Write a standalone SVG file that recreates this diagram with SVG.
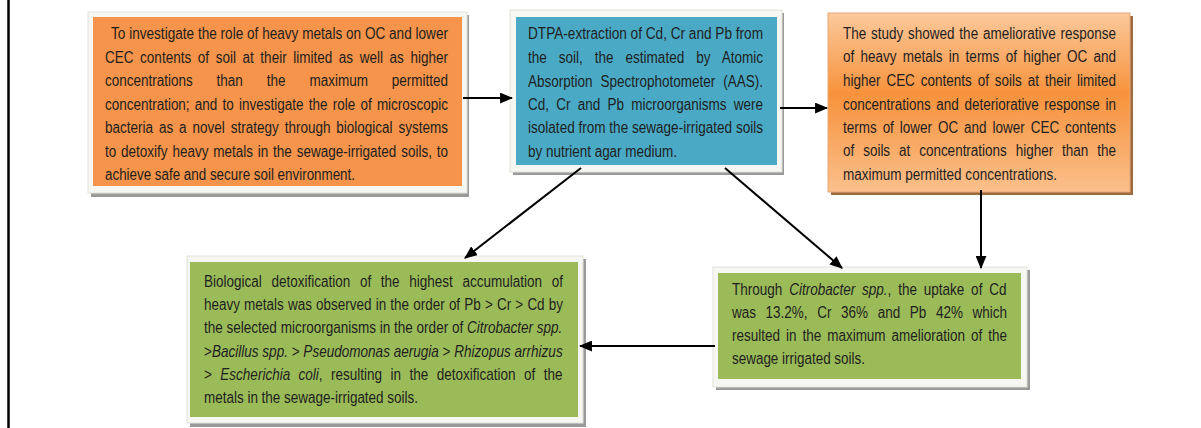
<svg xmlns="http://www.w3.org/2000/svg" width="1201" height="428" viewBox="0 0 1201 428">
<style>
.t{font-family:"Liberation Sans",Arial,sans-serif;font-size:16px;fill:#1e1e1e}
.i{font-style:italic}
.frame{fill:#f6f6f2;stroke:#e2e2dc;stroke-width:1}
.shadow{fill:#9a9a9a}
.conn{stroke:#000;stroke-width:2;fill:none;marker-end:url(#ah)}
</style>
<defs>
<marker id="ah" viewBox="0 0 12 10" refX="11" refY="5" markerWidth="13" markerHeight="11" markerUnits="userSpaceOnUse" orient="auto">
<path d="M0,0 L12,5 L0,10 z" fill="#000"/>
</marker>
<linearGradient id="og" x1="0" y1="0" x2="0" y2="1">
<stop offset="0" stop-color="#fcc99c"/>
<stop offset="0.45" stop-color="#f7923c"/>
<stop offset="1" stop-color="#fbc08c"/>
</linearGradient>
</defs>
<rect width="1201" height="428" fill="#fff"/>
<line x1="8.5" y1="0" x2="8.5" y2="428" stroke="#000" stroke-width="2.5"/>

<g id="box-objective">
<rect class="shadow" x="91" y="15" width="378" height="182"/>
<rect class="frame" x="88" y="12" width="379" height="181"/>
<rect x="93" y="17" width="369" height="169" fill="#f5944a"/>
<text class="t" x="111" y="39" textLength="337" lengthAdjust="spacingAndGlyphs">To investigate the role of heavy metals on OC and lower</text>
<text class="t" x="105" y="63" textLength="343" lengthAdjust="spacingAndGlyphs" word-spacing="3.4">CEC contents of soil at their limited as well as higher</text>
<text class="t" x="105" y="86" textLength="343" lengthAdjust="spacingAndGlyphs" word-spacing="24">concentrations than the maximum permitted</text>
<text class="t" x="105" y="110" textLength="343" lengthAdjust="spacingAndGlyphs" word-spacing="1.8">concentration; and to investigate the role of microscopic</text>
<text class="t" x="105" y="133" textLength="343" lengthAdjust="spacingAndGlyphs" word-spacing="2.6">bacteria as a novel strategy through biological systems</text>
<text class="t" x="105" y="157" textLength="343" lengthAdjust="spacingAndGlyphs" word-spacing="1.3">to detoxify heavy metals in the sewage-irrigated soils, to</text>
<text class="t" x="105" y="180" textLength="250" lengthAdjust="spacingAndGlyphs">achieve safe and secure soil environment.</text>
</g>

<g id="box-method">
<rect class="shadow" x="513" y="13" width="271" height="162"/>
<rect class="frame" x="510" y="10" width="272" height="162"/>
<rect x="516" y="17" width="261" height="148" fill="#4aaac5"/>
<text class="t" x="528" y="39" textLength="235" lengthAdjust="spacingAndGlyphs">DTPA-extraction of Cd, Cr and Pb from</text>
<text class="t" x="528" y="63" textLength="235" lengthAdjust="spacingAndGlyphs" word-spacing="9.7">the soil, the estimated by Atomic</text>
<text class="t" x="528" y="87" textLength="235" lengthAdjust="spacingAndGlyphs" word-spacing="5.2">Absorption Spectrophotometer (AAS).</text>
<text class="t" x="528" y="110" textLength="235" lengthAdjust="spacingAndGlyphs" word-spacing="4.2">Cd, Cr and Pb microorganisms were</text>
<text class="t" x="528" y="133" textLength="235" lengthAdjust="spacingAndGlyphs">isolated from the sewage-irrigated soils</text>
<text class="t" x="528" y="157" textLength="149" lengthAdjust="spacingAndGlyphs">by nutrient agar medium.</text>
</g>

<g id="box-result">
<rect x="831" y="16" width="302" height="179" fill="#9b6a3e"/>
<rect x="828" y="13" width="302" height="179" fill="url(#og)" stroke="#e8a87a" stroke-width="1"/>
<text class="t" x="843" y="39" textLength="273" lengthAdjust="spacingAndGlyphs" word-spacing="1.2">The study showed the ameliorative response</text>
<text class="t" x="843" y="62" textLength="273" lengthAdjust="spacingAndGlyphs" word-spacing="3">of heavy metals in terms of higher OC and</text>
<text class="t" x="843" y="86" textLength="273" lengthAdjust="spacingAndGlyphs" word-spacing="2.6">higher CEC contents of soils at their limited</text>
<text class="t" x="843" y="110" textLength="273" lengthAdjust="spacingAndGlyphs" word-spacing="2.3">concentrations and deteriorative response in</text>
<text class="t" x="843" y="133" textLength="273" lengthAdjust="spacingAndGlyphs" word-spacing="2.6">terms of lower OC and lower CEC contents</text>
<text class="t" x="843" y="156" textLength="273" lengthAdjust="spacingAndGlyphs" word-spacing="6.1">of soils at concentrations higher than the</text>
<text class="t" x="843" y="180" textLength="214" lengthAdjust="spacingAndGlyphs">maximum permitted concentrations.</text>
</g>

<g id="box-detox">
<rect class="shadow" x="190" y="259" width="396" height="168"/>
<rect class="frame" x="187" y="256" width="396" height="167"/>
<rect x="190" y="262" width="388" height="155" fill="#9bbb59"/>
<text class="t" x="204" y="287" textLength="359" lengthAdjust="spacingAndGlyphs" word-spacing="7.1">Biological detoxification of the highest accumulation of</text>
<text class="t" x="204" y="310" textLength="359" lengthAdjust="spacingAndGlyphs" word-spacing="0.5">heavy metals was observed in the order of Pb &gt; Cr &gt; Cd by</text>
<text class="t" x="0" y="333" transform="translate(204,0) scale(0.846,1)">the selected microorganisms in the order of <tspan class="i">Citrobacter spp.</tspan></text>
<text class="t" x="0" y="357" transform="translate(204,0) scale(0.847,1)">&gt;<tspan class="i">Bacillus spp.</tspan> &gt; <tspan class="i">Pseudomonas aerugia</tspan> &gt; <tspan class="i">Rhizopus arrhizus</tspan></text>
<text class="t" x="0" y="380" transform="translate(204,0) scale(0.846,1)" word-spacing="5.5">&gt; <tspan class="i">Escherichia coli</tspan>, resulting in the detoxification of the</text>
<text class="t" x="204" y="403" textLength="214" lengthAdjust="spacingAndGlyphs">metals in the sewage-irrigated soils.</text>
</g>

<g id="box-uptake">
<rect class="shadow" x="716" y="270" width="314" height="120"/>
<rect class="frame" x="713" y="267" width="314" height="120"/>
<rect x="718" y="273" width="303" height="106" fill="#9bbb59"/>
<text class="t" x="0" y="295" transform="translate(732,0) scale(0.846,1)" word-spacing="3.6">Through <tspan class="i">Citrobacter spp.</tspan>, the uptake of Cd</text>
<text class="t" x="732" y="318" textLength="275" lengthAdjust="spacingAndGlyphs" word-spacing="7">was 13.2%, Cr 36% and Pb 42% which</text>
<text class="t" x="732" y="341" textLength="275" lengthAdjust="spacingAndGlyphs" word-spacing="2.7">resulted in the maximum amelioration of the</text>
<text class="t" x="732" y="364" textLength="133" lengthAdjust="spacingAndGlyphs">sewage irrigated soils.</text>
</g>

<g id="connectors">
<line class="conn" x1="463" y1="98" x2="512" y2="98"/>
<line class="conn" x1="780" y1="108" x2="827" y2="108"/>
<line class="conn" x1="581" y1="168" x2="465" y2="258"/>
<line class="conn" x1="725" y1="168" x2="842" y2="268"/>
<line class="conn" x1="981" y1="190" x2="981" y2="268"/>
<line class="conn" x1="715" y1="346" x2="580" y2="346"/>
</g>
</svg>
